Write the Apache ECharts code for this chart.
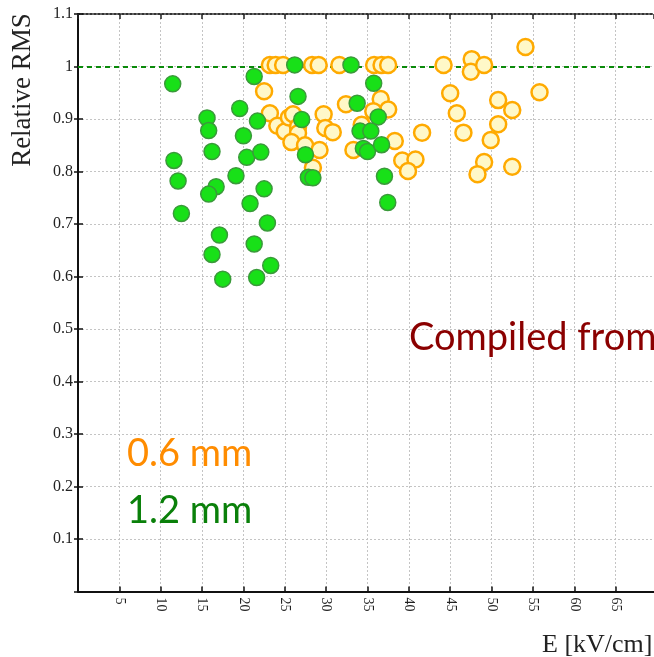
<!DOCTYPE html>
<html>
<head>
<meta charset="utf-8">
<script src="https://cdn.jsdelivr.net/npm/echarts@6/dist/echarts.min.js"></script>
<style>
  html, body { margin: 0; padding: 0; background: #ffffff; }
  #chart { width: 654px; height: 657px; }
</style>
</head>
<body>
<div id="chart"></div>
<script>
// Electric field E [kV/cm] and relative RMS for the 0.6 mm gap
const gap06E = [23.2, 23.9, 24.8, 28.3, 29.1, 31.6, 35.8, 36.7, 37.5, 44.2,
  47.6, 47.5, 49.1, 54.1, 22.5, 23.2, 24.1, 25.0, 25.5, 26.0,
  26.6, 26.6, 25.8, 27.45, 29.7, 29.9, 30.8, 29.2, 28.4, 32.4,
  36.6, 37.5, 35.7, 34.3, 33.3, 38.3, 39.2, 40.8, 39.9, 41.6,
  45.0, 45.8, 46.6, 50.8, 52.5, 50.8, 49.9, 55.8, 49.1, 48.3, 52.5];
const gap06RMS = [1.003, 1.003, 1.003, 1.003, 1.003, 1.003, 1.003, 1.003, 1.003, 1.003,
  1.014, 0.99, 1.003, 1.037, 0.953, 0.911, 0.887, 0.876, 0.903, 0.909,
  0.885, 0.873, 0.856, 0.850, 0.909, 0.883, 0.875, 0.841, 0.807, 0.928,
  0.938, 0.918, 0.915, 0.889, 0.841, 0.858, 0.821, 0.823, 0.801, 0.874,
  0.949, 0.911, 0.874, 0.936, 0.917, 0.890, 0.860, 0.951, 0.818, 0.795, 0.809];

// Electric field E [kV/cm] and relative RMS for the 1.2 mm gap
const gap12E = [11.45, 11.6, 12.1, 12.5, 15.6, 15.8, 16.2, 16.7, 15.8, 17.1,
  16.2, 17.5, 19.55, 20.0, 20.4, 19.1, 20.8, 21.3, 21.6, 21.3,
  21.7, 22.1, 22.5, 22.9, 23.3, 26.2, 26.6, 27.05, 27.5, 27.85,
  28.4, 33.0, 35.75, 33.75, 36.3, 34.1, 35.4, 34.5, 35.0, 36.7,
  37.05, 37.45];
const gap12RMS = [0.967, 0.821, 0.782, 0.720, 0.902, 0.878, 0.838, 0.771, 0.757, 0.679,
  0.642, 0.595, 0.920, 0.868, 0.827, 0.792, 0.739, 0.662, 0.598, 0.981,
  0.896, 0.837, 0.767, 0.702, 0.621, 1.003, 0.943, 0.899, 0.832, 0.789,
  0.788, 1.003, 0.968, 0.930, 0.904, 0.877, 0.877, 0.844, 0.838, 0.851,
  0.791, 0.741];

const referenceLevel = 1.0;
const xTickLabels = ['5', '10', '15', '20', '25', '30', '35', '40', '45', '50', '55', '60', '65'];
const yTickLabels = ['0.1', '0.2', '0.3', '0.4', '0.5', '0.6', '0.7', '0.8', '0.9', '1', '1.1'];

// the plotted field range runs slightly past the last labelled tick
const xMin = 0;
const xMax = 69.64;

const zip = (xs, ys) => xs.map((x, i) => [x, ys[i]]);

const serif = '"Liberation Serif", "DejaVu Serif", serif';
const sans = 'Lato, "Open Sans", sans-serif';

const gridLine = { show: true, lineStyle: { color: '#c4c4c4', type: [2, 2], width: 1 } };

const chart = echarts.init(document.getElementById('chart'), null, { renderer: 'canvas' });

chart.setOption({
  backgroundColor: '#ffffff',
  animation: false,
  grid: { left: 78, top: 14, right: 0, bottom: 65.5, containLabel: false },
  xAxis: [
    {
      type: 'value', min: xMin, max: xMax, interval: 5, position: 'bottom',
      axisLine: { show: true, onZero: false, lineStyle: { color: '#111', width: 2 } },
      axisTick: { show: true, inside: true, length: 5, lineStyle: { color: '#111', width: 1.5 } },
      axisLabel: {
        rotate: -90, margin: 6, color: '#222', fontFamily: serif, fontSize: 14,
        showMaxLabel: false,
        formatter: v => {
          const s = String(Math.round(v));
          return xTickLabels.indexOf(s) >= 0 ? s : '';
        }
      },
      splitLine: gridLine
    },
    {
      type: 'value', min: xMin, max: xMax, interval: 5, position: 'top',
      axisLine: { show: true, onZero: false, lineStyle: { color: '#333', width: 2, type: [2, 2] } },
      axisTick: { show: true, inside: true, length: 5, lineStyle: { color: '#222', width: 1.5 } },
      axisLabel: { show: false },
      splitLine: { show: false }
    }
  ],
  yAxis: [
    {
      type: 'value', min: 0, max: 1.1, interval: 0.1, position: 'left',
      axisLine: { show: true, onZero: false, lineStyle: { color: '#111', width: 2 } },
      axisTick: { show: true, inside: true, length: 5, lineStyle: { color: '#111', width: 1.5 } },
      axisLabel: {
        margin: 5, color: '#222', fontFamily: serif, fontSize: 16,
        formatter: v => {
          const s = String(parseFloat(v.toFixed(1)));
          return yTickLabels.indexOf(s) >= 0 ? s : '';
        }
      },
      splitLine: gridLine
    },
    {
      type: 'value', min: 0, max: 1.1, interval: 0.1, position: 'right',
      axisLine: { show: false },
      axisTick: { show: true, inside: true, length: 4, lineStyle: { color: '#111', width: 1.5 } },
      axisLabel: { show: false },
      splitLine: { show: false }
    }
  ],
  series: [
    {
      name: '0.6 mm',
      type: 'scatter',
      symbol: 'circle',
      symbolSize: 16,
      data: zip(gap06E, gap06RMS),
      itemStyle: { color: '#fff8c8', borderColor: '#ffaa00', borderWidth: 2.5, opacity: 1 },
      z: 3
    },
    {
      name: '1.2 mm',
      type: 'scatter',
      symbol: 'circle',
      symbolSize: 16,
      data: zip(gap12E, gap12RMS),
      itemStyle: { color: '#18e018', borderColor: '#3a9a3a', borderWidth: 1.5, opacity: 1 },
      z: 4,
      markLine: {
        silent: true,
        symbol: 'none',
        label: { show: false },
        lineStyle: { color: '#0a8a0a', type: [5, 4], width: 2 },
        data: [{ yAxis: referenceLevel }],
        z: 2
      }
    }
  ],
  graphic: [
    {
      type: 'text', x: 23, y: 90, rotation: Math.PI / 2, z: 100,
      style: { text: 'Relative RMS', font: '27px ' + serif, fill: '#222', align: 'center', verticalAlign: 'middle' }
    },
    {
      type: 'text', x: 542, y: 645, z: 100,
      style: { text: 'E [kV/cm]', font: '26px ' + serif, fill: '#222', align: 'left', verticalAlign: 'middle' }
    },
    {
      type: 'text', x: 127, y: 454, z: 100,
      style: { text: '0.6 mm', font: '38px ' + sans, fill: '#ff8c00', align: 'left', verticalAlign: 'middle' }
    },
    {
      type: 'text', x: 127, y: 511, z: 100,
      style: { text: '1.2 mm', font: '38px ' + sans, fill: '#0a800a', align: 'left', verticalAlign: 'middle' }
    },
    {
      type: 'text', x: 409, y: 338, z: 100,
      style: { text: 'Compiled from', font: '38px ' + sans, fill: '#8b0000', align: 'left', verticalAlign: 'middle' }
    }
  ]
});
</script>
</body>
</html>
